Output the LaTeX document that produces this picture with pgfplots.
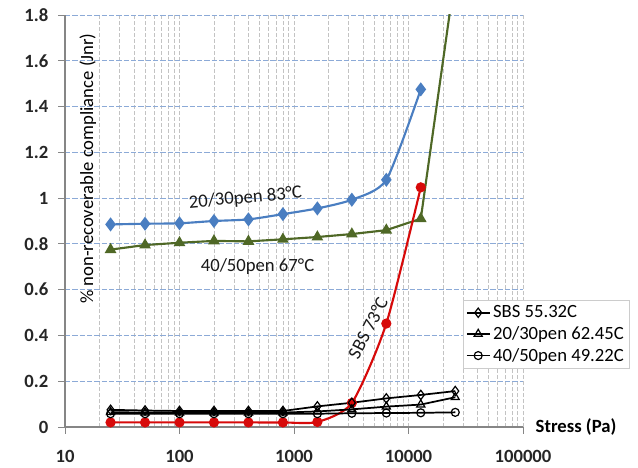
\documentclass[border=0pt]{standalone}
\usepackage{pgfplots}
\pgfplotsset{compat=1.18}
\usepackage{fontspec}
\setmainfont{Carlito}
\definecolor{xblue}{RGB}{74,126,193}
\definecolor{xgreen}{RGB}{79,104,38}
\definecolor{xred}{RGB}{215,10,10}
\definecolor{hgrid}{RGB}{140,170,215}
\definecolor{vgrid}{RGB}{195,195,195}
\definecolor{axgray}{RGB}{134,134,134}
\begin{document}
\begin{tikzpicture}
\useasboundingbox (-48.75pt,-30pt) rectangle (429.75pt,320.25pt);
\begin{axis}[
  scale only axis, width=343.5pt, height=309pt,
  at={(0pt,0pt)}, anchor=south west,
  xmode=log, xmin=10, xmax=100000, ymin=0, ymax=1.8,
  axis lines=left, axis line style={-, draw=axgray, line width=0.8pt},
  xtick={10,100,1000,10000,100000},
  xticklabels={10,100,1000,10000,100000},
  ytick={0,0.2,0.4,0.6,0.8,1,1.2,1.4,1.6,1.8},
  /pgf/number format/assume math mode=true,
  tick label style={font=\fontsize{14}{16}\selectfont\bfseries, text=black!85},
  tick align=outside, major tick length=5pt, minor tick length=0pt,
  tick style={draw=axgray, line width=0.6pt},
  yticklabel style={xshift=-4pt},
  xticklabel style={yshift=-9pt},
  xmajorgrids, xminorgrids, ymajorgrids,
  major x grid style={draw=vgrid, dash pattern=on 3pt off 1.5pt, line width=0.5pt},
  minor x grid style={draw=vgrid, dash pattern=on 3pt off 1.5pt, line width=0.5pt},
  major y grid style={draw=hgrid, dash pattern=on 4pt off 1.5pt, line width=0.7pt},
  every axis x label/.style={at={(rel axis cs:1,0)}, anchor=west, xshift=6pt, font=\fontsize{14}{16}\selectfont\bfseries},
  every axis y label/.style={at={(rel axis cs:0.05,0.627)}, rotate=90, anchor=center, font=\fontsize{14}{16}\selectfont},
  xlabel={Stress (Pa)},
  ylabel={\% non-recoverable compliance (Jnr)},
  legend style={at={(rel axis cs:0.869,0.308)}, anchor=north west, draw=black!20, fill=white,
    font=\fontsize{14}{16}\selectfont, row sep=1pt, inner sep=2pt},
  legend cell align=left,
  clip=true,
]
% coloured series
\addplot[xblue, line width=1.6pt, smooth, tension=0.4, mark=diamond*, mark size=4pt, forget plot] coordinates {
 (25,0.885) (50,0.888) (100,0.890) (200,0.900) (400,0.907) (800,0.930) (1600,0.955) (3200,0.993) (6400,1.080) (12800,1.475)};
\addplot[xgreen, line width=1.6pt, mark=triangle*, mark size=3.5pt, forget plot] coordinates {
 (25,0.775) (50,0.795) (100,0.805) (200,0.813) (400,0.811) (800,0.820) (1600,0.830) (3200,0.843) (6400,0.860) (12800,0.910) (25600,1.98)};
\addplot[xred, line width=1.6pt, smooth, tension=0.4, mark=*, mark size=3pt, forget plot] coordinates {
 (25,0.020) (50,0.020) (100,0.020) (200,0.020) (400,0.020) (800,0.020) (1600,0.022) (3200,0.105) (6400,0.452) (12800,1.047)};
% black series
\addplot[black, line width=1.3pt, mark=diamond, mark size=3.5pt, mark options={fill=white, line width=0.9pt}] coordinates {
 (25,0.075) (50,0.072) (100,0.070) (200,0.070) (400,0.070) (800,0.070) (1600,0.090) (3200,0.106) (6400,0.125) (12800,0.140) (25600,0.157)};
\addlegendentry{SBS 55.32C}
\addplot[black, line width=1.3pt, mark=triangle, mark size=3.5pt, mark options={fill=white, line width=0.9pt}] coordinates {
 (25,0.065) (50,0.063) (100,0.063) (200,0.063) (400,0.063) (800,0.063) (1600,0.068) (3200,0.077) (6400,0.089) (12800,0.098) (25600,0.130)};
\addlegendentry{20/30pen 62.45C}
\addplot[black, line width=1.3pt, mark=o, mark size=3pt, mark options={fill=white, line width=0.9pt}] coordinates {
 (25,0.058) (50,0.058) (100,0.058) (200,0.058) (400,0.058) (800,0.058) (1600,0.058) (3200,0.060) (6400,0.061) (12800,0.062) (25600,0.064)};
\addlegendentry{40/50pen 49.22C}
\node[rotate=5, font=\fontsize{14}{16}\selectfont, text=black!90] at (axis cs:377,1.0) {20/30pen 83°C};
\node[font=\fontsize{14}{16}\selectfont, text=black!90] at (axis cs:480,0.699) {40/50pen 67°C};
\node[rotate=63, font=\fontsize{14}{16}\selectfont, text=black!90] at (axis cs:4426,0.4325) {SBS 73°C};
\end{axis}
\end{tikzpicture}
\end{document}
